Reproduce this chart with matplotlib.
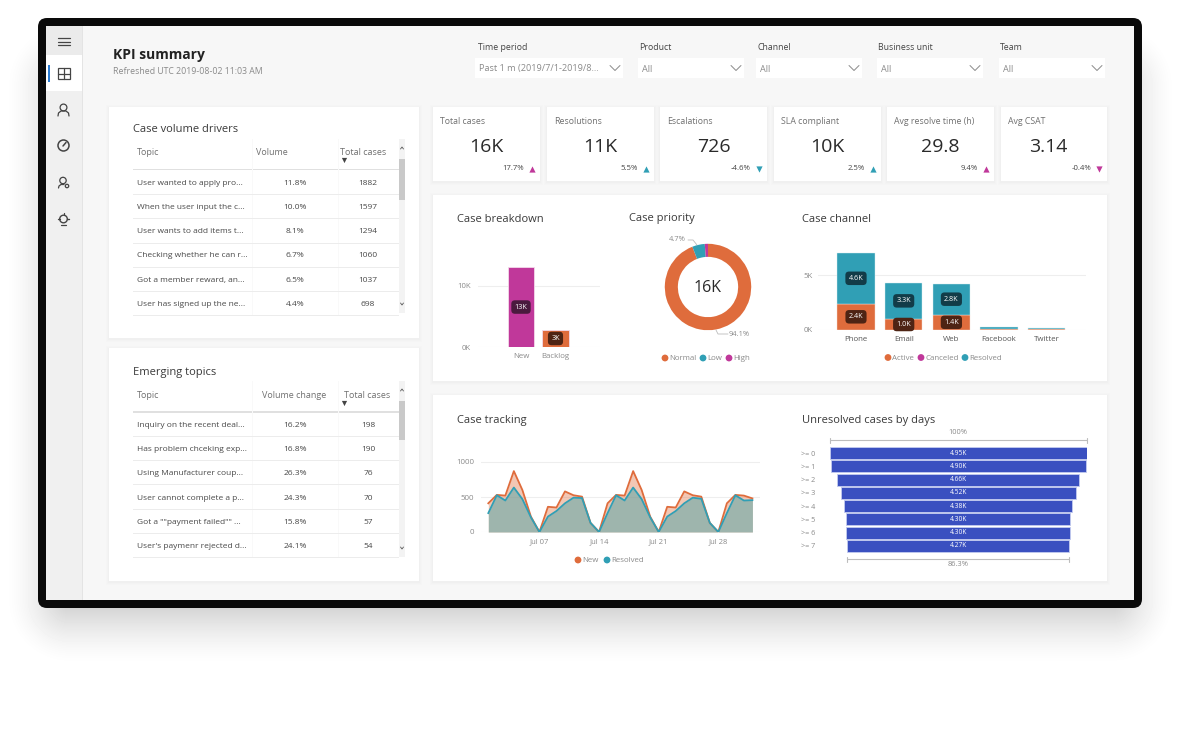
import matplotlib
matplotlib.use("Agg")
import matplotlib.pyplot as plt
import numpy as np
from matplotlib.patches import FancyBboxPatch, Rectangle, Circle

plt.rcParams['font.family'] = ['Open Sans', 'DejaVu Sans']

W, H = 1180, 755

ORANGE = '#df6c3c'
TEAL = '#309fb5'
MAGENTA = '#c0389a'
BLUE = '#3a50c0'
GREY = '#8a8a8a'
MID = '#484848'
TITLE = '#3a3a3a'

# filters
filter_names = ['Time period', 'Product', 'Channel', 'Business unit', 'Team']
filter_values = ['Past 1 m (2019/7/1-2019/8...', 'All', 'All', 'All', 'All']

# kpi cards
kpi_names = ['Total cases', 'Resolutions', 'Escalations', 'SLA compliant', 'Avg resolve time (h)', 'Avg CSAT']
kpi_values = ['16K', '11K', '726', '10K', '29.8', '3.14']
kpi_deltas = ['17.7%', '5.5%', '-4.6%', '2.5%', '9.4%', '-0.4%']
kpi_up = [True, True, False, True, True, False]
kpi_bad = [True, False, False, False, True, True]

# tables
drivers_topics = ['User wanted to apply pro...', 'When the user input the c...', 'User wants to add items t...',
                  'Checking whether he can r...', 'Got a member reward, an...', 'User has signed up the ne...']
drivers_volume = ['11.8%', '10.0%', '8.1%', '6.7%', '6.5%', '4.4%']
drivers_cases = [1882, 1597, 1294, 1060, 1037, 698]

emerging_topics = ['Inquiry on the recent deal...', 'Has problem chceking exp...', 'Using Manufacturer coup...',
                   'User cannot complete a p...', 'Got a ""payment failed"" ...', "User's paymenr rejected d..."]
emerging_change = ['16.2%', '16.8%', '26.3%', '24.3%', '15.8%', '24.1%']
emerging_cases = [198, 190, 76, 70, 57, 54]

# case breakdown
breakdown_names = ['New', 'Backlog']
breakdown_values = [13100, 2800]
breakdown_labels = ['13K', '3K']

# case priority
priority_names = ['Normal', 'Low', 'High']
priority_values = [94.1, 4.7, 1.2]

# case channel
channel_names = ['Phone', 'Email', 'Web', 'Facebook', 'Twitter']
channel_active = [2400, 1000, 1400, 60, 50]
channel_resolved = [4600, 3300, 2800, 200, 170]
channel_active_labels = ['2.4K', '1.0K', '1.4K', '', '']
channel_resolved_labels = ['4.6K', '3.3K', '2.8K', '', '']

# case tracking, Jul 1 to Aug 1
tracking_new = [410, 530, 520, 870, 600, 220, 0, 360, 350, 580, 525, 505, 130, 0, 410, 530,
                520, 870, 600, 220, 0, 360, 350, 580, 525, 505, 130, 0, 410, 530, 520, 480]
tracking_resolved = [270, 525, 450, 635, 470, 210, 0, 220, 300, 410, 490, 485, 130, 0, 270, 525,
                     450, 635, 470, 210, 0, 220, 300, 410, 490, 475, 130, 0, 270, 525, 450, 455]
tracking_ticks = [6, 13, 20, 27]
tracking_ticklabels = ['Jul 07', 'Jul 14', 'Jul 21', 'Jul 28']

# unresolved cases
funnel_names = ['>= 0', '>= 1', '>= 2', '>= 3', '>= 4', '>= 5', '>= 6', '>= 7']
funnel_values = [4.95, 4.90, 4.66, 4.52, 4.38, 4.30, 4.30, 4.27]
funnel_labels = ['4.95K', '4.90K', '4.66K', '4.52K', '4.38K', '4.30K', '4.30K', '4.27K']

fig = plt.figure(figsize=(W / 100, H / 100), dpi=100, facecolor='white')
bg = fig.add_axes([0, 0, 1, 1])


def px_axes(x0, y0, x1, y1):
    # axes placed by pixel box, y0 is the top edge
    ax = fig.add_axes([x0 / W, 1 - y1 / H, (x1 - x0) / W, (y1 - y0) / H])
    ax.patch.set_alpha(0)
    for s in ax.spines.values():
        s.set_visible(False)
    ax.tick_params(length=0)
    return ax


def box(x0, y0, x1, y1, color, z=1):
    bg.add_patch(Rectangle((x0, y0), x1 - x0, y1 - y0, fc=color, ec='none', zorder=z))


def card(x0, y0, x1, y1):
    for g, a in [(3, 0.006), (2, 0.008), (1, 0.012)]:
        bg.add_patch(Rectangle((x0 - g, y0 - g + 1), x1 - x0 + 2 * g, y1 - y0 + 2 * g, fc='black', ec='none', alpha=a, zorder=2))
    box(x0, y0, x1, y1, 'white', 3)


def label(x, y, s, size=6.2, color=MID, ha='left', weight='normal'):
    bg.text(x, y + 1, s, fontsize=size, color=color, ha=ha, va='center', weight=weight, zorder=6)


def line(xs, ys, color='#555555', lw=0.8, z=6):
    bg.plot(xs, ys, color=color, lw=lw, zorder=z, solid_capstyle='round')


def dots(names, colors, xs, y):
    for n, c, x in zip(names, colors, xs):
        bg.add_patch(Circle((x, y), 3.4, fc=c, ec='none', zorder=6))
        label(x + 4.5, y, n, 5.7, GREY)


def tag(ax, x, y, s, color):
    ax.text(x, y, s, color='white', fontsize=5.2, ha='center', va='center', zorder=5,
            bbox=dict(boxstyle='round,pad=0.45,rounding_size=0.5', fc=color, ec='none'))


# soft drop shadow under the device frame
yy, xx = np.mgrid[0:H, 0:W]
dx = np.maximum(np.maximum(69 - xx, xx - 1111), 0)
dy = np.maximum(np.maximum(85 - yy, yy - 600), 0)
fade = np.clip(1 - np.hypot(dx, dy) / 65, 0, 1) ** 1.5
bg.imshow(1 - 0.2 * fade, cmap='gray', vmin=0, vmax=1, extent=(0, W, H, 0), aspect='auto', zorder=0, interpolation='bilinear')
bg.set_xlim(0, W)
bg.set_ylim(H, 0)
bg.axis('off')

bg.add_patch(FancyBboxPatch((38, 18), 1104, 590, boxstyle='round,pad=0,rounding_size=9', fc='#0a0a0a', ec='none', zorder=1))
box(46, 26, 1134, 600, '#f7f7f7', 1)
box(46, 26, 82, 600, '#f0f0f0', 1)
box(82, 26, 83, 600, '#e4e4e4', 1)
box(46, 26, 82, 55, '#ebebeb', 1)
box(46, 55, 82, 91, 'white', 1)
box(48, 65, 50, 82, '#2b7cd3', 2)

# sidebar icons
for y in [38, 41.5, 45]:
    line([57.5, 70], [y, y], '#444444', 0.9)
bg.add_patch(Rectangle((58, 68), 11.5, 11, fc='none', ec='#444444', lw=0.9, zorder=6))
line([63.5, 63.5], [68, 79], '#444444', 0.9)
line([58, 69.5], [74, 74], '#444444', 0.9)
bg.add_patch(Circle((63.5, 107.5), 3.4, fc='none', ec='#444444', lw=0.9, zorder=6))
line([58, 58.5, 61, 66, 68.5, 69], [116, 113, 111, 111, 113, 116], '#444444', 0.9)
bg.add_patch(Circle((63.5, 145.5), 5.5, fc='none', ec='#444444', lw=1.1, zorder=6))
line([63, 66], [146, 142.5], '#444444', 1.1)
bg.add_patch(Circle((63, 180.5), 3.2, fc='none', ec='#444444', lw=0.9, zorder=6))
line([58.5, 59, 61, 64], [188, 186, 184.5, 184.5], '#444444', 0.9)
bg.add_patch(Circle((67, 186), 1.7, fc='none', ec='#444444', lw=0.9, zorder=6))
bg.add_patch(Circle((63.5, 219), 3.8, fc='none', ec='#444444', lw=1.0, zorder=6))
line([63.5, 63.5], [212.5, 215], '#444444', 0.9)
line([58, 59.7], [219, 219], '#444444', 1.0)
line([67.3, 69], [219, 219], '#444444', 1.0)
line([61, 66], [224.5, 224.5], '#444444', 0.9)

# header
label(113, 54.5, 'KPI summary', 10, '#222222', weight='bold')
label(113, 71, 'Refreshed UTC 2019-08-02 11:03 AM', 6.3, GREY)

filter_x = [(475, 623), (638, 744), (756, 862), (877, 983), (999, 1105)]
for i, ((x0, x1), n, v) in enumerate(zip(filter_x, filter_names, filter_values)):
    label(x0 + (3 if i == 0 else 1), 46.5, n, 6.3, '#444444')
    box(x0, 58, x1, 78, 'white', 3)
    label(x0 + 4, 68, v, 6.6, GREY)
    line([x1 - 13, x1 - 8, x1 - 3], [65.5, 70.5, 65.5], '#8a8a8a', 0.7)

# kpi cards
card_x = [(433, 540), (547, 654), (660, 767), (774, 881), (887, 994), (1001, 1107)]
for (x0, x1), n, v, d, up, bad in zip(card_x, kpi_names, kpi_values, kpi_deltas, kpi_up, kpi_bad):
    card(x0, 107, x1, 181)
    label(x0 + 7, 121, n, 6.3, '#707070')
    # the last value sits a bit left of centre on the card
    label((x0 + x1) / 2 + (0 if x0 < 1000 else -6), 146, v, 14, '#2a2a2a', ha='center')
    label(x1 - 16, 168, d, 5.6, '#444444', ha='right')
    bg.scatter([x1 - 8], [169], marker='^' if up else 'v', s=20, color=MAGENTA if bad else TEAL, linewidths=0, zorder=6)

# panels
card(109, 107, 419, 338)
card(109, 348, 419, 581)
card(433, 195, 1107, 381)
card(433, 395, 1107, 581)


def table(title, y_title, y_head, y_line, headers, head_x, col1, col2, topics, y_rows, y_sep, thumb, sb):
    label(133, y_title, title, 8, TITLE)
    for h, x in zip(headers, head_x):
        label(x, y_head, h, 6.5, '#707070')
    box(133, y_line - 0.8, 399, y_line + 0.8, '#e0e0e0', 4)
    for x in [252, 338]:
        box(x, sb[0], x + 0.7, y_sep[-1], '#f9f9f9', 4)
    bg.scatter([344], [y_head + 8.5], marker='v', s=14, color='#444444', linewidths=0, zorder=6)
    for t, a, b, y, ys in zip(topics, col1, col2, y_rows, y_sep):
        label(137, y, t, 6, MID)
        label(295, y, a, 6, MID, ha='center')
        label(368, y, str(b), 6, MID, ha='center')
        box(133, ys - 0.5, 399, ys + 0.5, '#ececec', 4)
    box(399, sb[0], 405, sb[1], '#f3f3f3', 4)
    box(399, thumb[0], 405, thumb[1], '#c9c9c9', 5)
    line([400.5, 402, 403.5], [sb[0] + 10, sb[0] + 8, sb[0] + 10], '#555555', 0.6)
    line([400.5, 402, 403.5], [sb[1] - 10, sb[1] - 8, sb[1] - 10], '#555555', 0.6)


table('Case volume drivers', 129, 151.5, 169.5, ['Topic', 'Volume', 'Total cases'], [137, 256, 340],
      drivers_volume, drivers_cases, drivers_topics,
      [182.5, 206.5, 230.5, 254.5, 279.5, 303.5], [194, 218, 243, 267, 291, 315], (159, 200), (139, 313))
table('Emerging topics', 371, 394, 412, ['Topic', 'Volume change', 'Total cases'], [137, 262, 344],
      emerging_change, emerging_cases, emerging_topics,
      [424.5, 448.5, 472.5, 497.5, 521.5, 545.5], [436, 460, 484, 509, 533, 557], (401, 440), (381, 557))

# case breakdown
label(457, 218, 'Case breakdown', 8, TITLE)
ax = px_axes(478, 250, 600, 347)
ax.set_xlim(-1.246, 2.29)
ax.set_ylim(0, 97 / 61 * 10000)
ax.bar(range(2), breakdown_values, width=0.77, color=[MAGENTA, ORANGE], edgecolor='#f3d9ea', linewidth=0.6, zorder=3)
ax.set_yticks([0, 10000])
ax.set_yticklabels(['0K', '10K'], fontsize=5.6, color=GREY)
ax.set_xticks(range(2))
ax.set_xticklabels(breakdown_names, fontsize=5.7, color=GREY)
ax.tick_params(axis='y', pad=5)
ax.tick_params(axis='x', pad=4.5)
ax.grid(axis='y', color='#eeeeee', lw=0.8, zorder=0)
ax.set_axisbelow(True)
tag(ax, 0, breakdown_values[0] / 2, breakdown_labels[0], '#4a1a3e')
tag(ax, 1, breakdown_values[1] / 2, breakdown_labels[1], '#4e2414')

# case priority
label(629, 218, 'Case priority', 8, TITLE)
ax = px_axes(660, 239, 756, 335)
ax.pie(priority_values, colors=[ORANGE, TEAL, MAGENTA], startangle=90, counterclock=False, radius=0.9,
       wedgeprops=dict(width=0.9 * 13 / 43), normalize=True)
ax.set_xlim(-1, 1)
ax.set_ylim(-1, 1)
ax.text(0, -0.03, '16K', fontsize=11.5, color='#2a2a2a', ha='center', va='center')
label(669, 238.5, '4.7%', 5.4, GREY)
line([688, 693, 697], [240, 240, 245], '#bbbbbb', 0.6)
line([716, 718, 728], [330, 334, 334], '#bbbbbb', 0.6)
label(729, 333.5, '94.1%', 5.4, GREY)
dots(priority_names, [ORANGE, TEAL, MAGENTA], [665, 703, 729], 358)

# case channel
label(802, 218, 'Case channel', 8, TITLE)
ax = px_axes(818, 240, 1086, 330)
ax.set_xlim((818 - 856) / 47.7, (1086 - 856) / 47.7)
ax.set_ylim(0, 90 / 55 * 5000)
ax.bar(range(5), channel_active, width=0.78, color=ORANGE, edgecolor='#f5ddd3', linewidth=0.3, zorder=3)
ax.bar(range(5), channel_resolved, width=0.78, bottom=channel_active, color=TEAL, edgecolor='#d5ecf0', linewidth=0.3, zorder=3)
ax.set_yticks([0, 5000])
ax.set_yticklabels(['0K', '5K'], fontsize=5.6, color=GREY)
ax.set_xticks(range(5))
ax.set_xticklabels(channel_names, fontsize=5.7, color='#555555')
ax.tick_params(axis='y', pad=4)
ax.tick_params(axis='x', pad=4.5)
ax.grid(axis='y', color='#eeeeee', lw=0.8, zorder=0)
ax.set_axisbelow(True)
for i in range(5):
    if channel_active_labels[i]:
        tag(ax, i, channel_active[i] / 2, channel_active_labels[i], '#4e2414')
        tag(ax, i, channel_active[i] + channel_resolved[i] / 2, channel_resolved_labels[i], '#123c48')
dots(['Active', 'Canceled', 'Resolved'], [ORANGE, MAGENTA, TEAL], [888, 921, 965], 357.5)

# case tracking
label(457, 419, 'Case tracking', 8, TITLE)
ax = px_axes(481, 452, 760, 532)
days = list(range(len(tracking_new)))
ax.set_xlim((481 - 488.3) / 8.52, (760 - 488.3) / 8.52)
ax.set_ylim(0, 80 / 70 * 1000)
ax.fill_between(days, tracking_new, color=ORANGE, alpha=0.38, lw=0, zorder=2)
ax.fill_between(days, tracking_resolved, color='#5fa8a8', alpha=0.57, lw=0, zorder=3)
ax.plot(days, tracking_new, color=ORANGE, lw=1.3, zorder=4)
ax.plot(days, tracking_resolved, color=TEAL, lw=1.3, zorder=5)
ax.set_yticks([0, 500, 1000])
ax.set_yticklabels(['0', '500', '1000'], fontsize=5.7, color=GREY)
ax.set_xticks(tracking_ticks)
ax.set_xticklabels(tracking_ticklabels, fontsize=5.5, color=GREY)
ax.tick_params(axis='y', pad=5)
ax.tick_params(axis='x', pad=4.5)
ax.grid(axis='y', color='#eeeeee', lw=0.8, zorder=0)
ax.set_axisbelow(True)
dots(['New', 'Resolved'], [ORANGE, TEAL], [578, 607], 560)

# unresolved cases funnel
label(802, 419, 'Unresolved cases by days', 8, TITLE)
ax = px_axes(829.5, 446.5, 1087, 552.5)
ax.set_xlim(-funnel_values[0] / 2, funnel_values[0] / 2)
ax.set_ylim(7.5, -0.5)
ax.barh(range(8), funnel_values, left=[-v / 2 for v in funnel_values], height=0.9, color=BLUE, edgecolor='#c3cbef', linewidth=0.6)
ax.set_yticks(range(8))
ax.set_yticklabels(funnel_names, fontsize=5.2, color=GREY)
ax.set_xticks([])
ax.tick_params(axis='y', pad=10)
for i, s in enumerate(funnel_labels):
    ax.text(0, i, s, color='white', fontsize=4.8, ha='center', va='center')
label(958, 432, '100%', 5.4, GREY, ha='center')
line([829.5, 1087], [440, 440], '#bdbdbd', 0.8)
line([829.5, 829.5], [437.5, 442.5], '#bdbdbd', 0.8)
line([1087, 1087], [437.5, 442.5], '#bdbdbd', 0.8)
line([847, 1069], [559, 559], '#bdbdbd', 0.8)
line([847, 847], [556.5, 561.5], '#bdbdbd', 0.8)
line([1069, 1069], [556.5, 561.5], '#bdbdbd', 0.8)
label(958, 564, '86.3%', 5.4, GREY, ha='center')

fig.savefig('out.png', dpi=100, facecolor='white')
